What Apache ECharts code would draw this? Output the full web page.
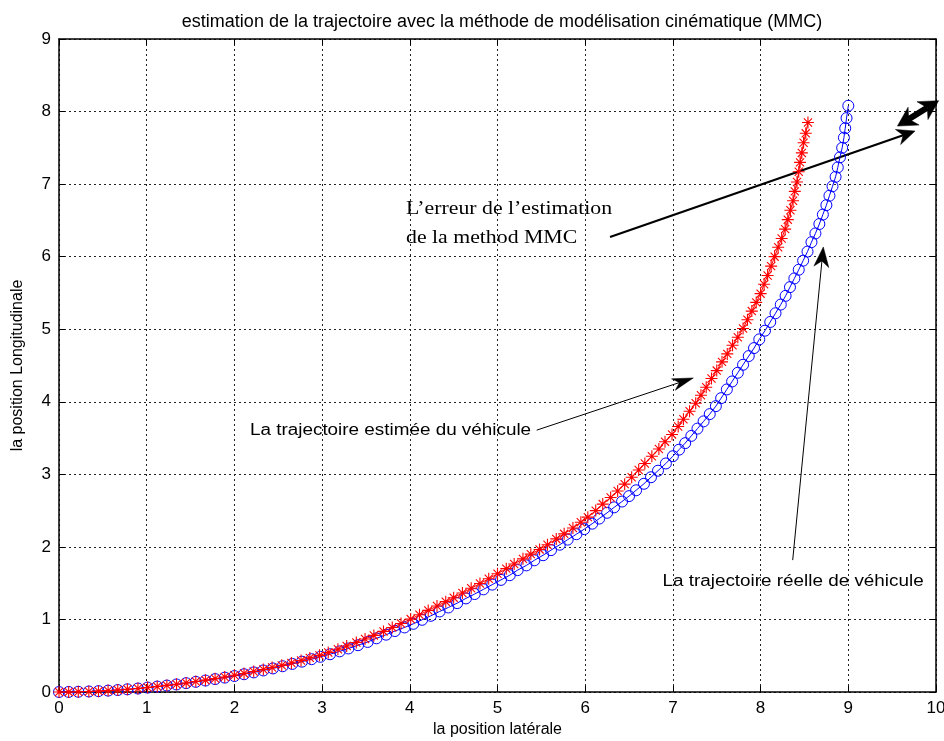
<!DOCTYPE html>
<html><head><meta charset="utf-8">
<script src="https://cdn.jsdelivr.net/npm/echarts@6.0.0/dist/echarts.min.js"></script>
<style>html,body{margin:0;padding:0;background:#fff}#c{width:944px;height:741px}</style>
</head><body><div id="c"></div>
<script>
// ---------- text ----------
const titleText = 'estimation de la trajectoire avec la méthode de modélisation cinématique (MMC)';
const xAxisName = 'la position latérale';
const yAxisName = 'la position Longitudinale';
const xRange = [0, 10];
const yRange = [0, 9];
const tickStep = 1;

// ---------- data: real trajectory (blue circles) ----------
const blueX = [0,0.11,0.22,0.34,0.45,0.56,0.67,0.78,0.9,1.01,
1.12,1.23,1.34,1.45,1.56,1.67,1.78,1.89,2.0,
2.11,2.22,2.33,2.44,2.55,2.66,2.77,2.88,2.98,
3.09,3.2,3.3,3.41,3.52,3.62,3.73,3.83,3.94,4.04,
4.14,4.24,4.34,4.44,4.54,4.64,4.74,4.84,4.94,5.04,
5.14,5.23,5.33,5.42,5.52,5.61,5.71,5.8,5.9,5.99,
6.08,6.16,6.25,6.33,6.42,6.5,6.58,6.67,6.75,6.83,6.92,7.0,
7.07,7.14,7.21,7.28,7.35,7.42,7.49,
7.55,7.615,7.675,7.74,7.8,7.865,7.925,7.985,8.05,8.11,8.17,8.23,8.285,8.335,8.385,8.435,8.485,8.535,8.58,8.625,8.67,8.71,8.75,8.785,8.82,8.855,8.88,8.905,8.93,8.95,8.965,8.98,9.0];
const blueY = [0,0.001,0.003,0.007,0.012,0.019,0.027,0.037,0.048,0.061,
0.075,0.089,0.104,0.122,0.14,0.158,0.178,0.198,0.22,
0.245,0.27,0.297,0.325,0.355,0.387,0.418,0.452,0.485,
0.52,0.56,0.6,0.645,0.69,0.74,0.79,0.84,0.89,0.94,
0.995,1.05,1.11,1.165,1.225,1.29,1.35,1.415,1.48,1.545,
1.61,1.68,1.745,1.815,1.885,1.955,2.03,2.1,2.175,2.245,
2.32,2.39,2.47,2.545,2.625,2.7,2.78,2.87,2.96,3.05,3.15,3.25,
3.34,3.43,3.53,3.63,3.73,3.83,3.94,
4.05,4.17,4.28,4.4,4.51,4.63,4.74,4.86,4.98,5.1,5.22,5.34,5.46,5.58,5.7,5.82,5.945,6.07,6.2,6.32,6.45,6.58,6.71,6.84,6.97,7.1,7.23,7.37,7.5,7.64,7.77,7.91,8.08];

// ---------- data: estimated trajectory (red asterisks) ----------
const redX = [0,0.11,0.22,0.34,0.45,0.56,0.67,0.78,0.9,1.01,
1.12,1.23,1.34,1.45,1.56,1.67,1.78,1.89,2.0,
2.11,2.22,2.33,2.43,2.54,2.65,2.76,2.86,2.97,
3.07,3.18,3.28,3.39,3.49,3.59,3.7,3.8,3.9,4.01,
4.11,4.21,4.31,4.41,4.5,4.6,4.7,4.8,4.9,5.0,
5.1,5.19,5.29,5.38,5.48,5.57,5.67,5.76,5.86,5.95,
6.03,6.12,6.2,6.29,6.37,6.45,
6.53,6.61,6.68,6.76,6.84,6.91,6.99,
7.06,7.12,7.19,7.26,
7.32,7.38,7.44,7.5,7.56,7.62,7.68,7.74,7.8,7.85,7.9,7.95,8.0,8.04,8.08,8.12,8.16,8.2,8.24,8.28,8.31,8.34,8.37,8.39,8.415,8.435,8.45,8.47,8.49,8.515,8.54];
const redY = [0,0.001,0.003,0.007,0.012,0.019,0.027,0.037,0.049,0.062,
0.076,0.091,0.107,0.125,0.144,0.163,0.184,0.206,0.23,
0.256,0.283,0.31,0.338,0.367,0.4,0.435,0.47,0.505,
0.545,0.59,0.635,0.683,0.73,0.78,0.835,0.89,0.945,1.005,
1.065,1.125,1.185,1.245,1.3,1.365,1.43,1.495,1.56,1.63,
1.7,1.765,1.835,1.9,1.965,2.03,2.11,2.18,2.26,2.34,
2.41,2.5,2.59,2.68,2.77,2.865,
2.96,3.06,3.15,3.25,3.35,3.45,3.55,
3.66,3.76,3.87,3.98,
4.09,4.2,4.32,4.43,4.55,4.66,4.78,4.89,5.01,5.13,5.25,5.37,5.49,5.62,5.74,5.87,6.0,6.13,6.25,6.38,6.51,6.64,6.77,6.9,7.03,7.17,7.3,7.43,7.57,7.7,7.85];

// ---------- annotations (data coordinates) ----------
const noteErrorLines = ['L\u2019erreur de l\u2019estimation', 'de la method MMC'];
const noteErrorAnchor = [3.957, 6.86];
const noteEstimated = 'La trajectoire estimée du véhicule';
const noteEstimatedAnchor = [2.178, 3.595];
const noteReal = 'La trajectoire réelle de véhicule';
const noteRealAnchor = [6.881, 1.515];
const arrowEstimated = [[5.447, 3.609], [7.233, 4.329]];
const arrowReal = [[8.366, 1.818], [8.715, 6.134]];
const arrowError = [[6.283, 6.271], [9.761, 7.731]];
const arrowDouble = [[9.560, 7.800], [10.030, 8.150]];

const FONT = '"Liberation Sans", Arial, sans-serif';
const SERIF = '"Liberation Serif", "Times New Roman", serif';
const STRETCH = 1.21;

const pair = (xs, ys) => xs.map((x, i) => [x, ys[i]]);
const asterisk = 'path://M5,0L5,10M0,5L10,5M1.6,1.6L8.4,8.4M1.6,8.4L8.4,1.6';

const chart = echarts.init(document.getElementById('c'), null, {renderer: 'canvas'});

const gridLine = {show: true, lineStyle: {color: '#222', width: 1, type: [2, 3]}};
const axisLineStyle = {show: true, onZero: false, lineStyle: {color: '#000', width: 1.5}};
const tick = {show: true, inside: true, length: 6, lineStyle: {color: '#000', width: 1}};
const labelStyle = {color: '#000', fontSize: 17, fontFamily: FONT, margin: 8};

chart.setOption({
  animation: false,
  backgroundColor: '#fff',
  title: {
    text: titleText, left: 497, top: 8, textAlign: 'center',
    textStyle: {fontSize: 18, fontWeight: 'normal', fontFamily: FONT, color: '#000'}
  },
  grid: {left: 59, right: 8, top: 39, bottom: 49, containLabel: false, outerBoundsMode: 'none'},
  xAxis: [
    {type: 'value', min: xRange[0], max: xRange[1], interval: tickStep, position: 'bottom',
     axisLine: axisLineStyle, axisTick: tick, splitLine: gridLine, axisLabel: labelStyle,
     name: xAxisName, nameLocation: 'middle', nameGap: 30,
     nameTextStyle: {fontSize: 16, fontFamily: FONT, color: '#000'}},
    {type: 'value', min: xRange[0], max: xRange[1], interval: tickStep, position: 'top',
     axisLine: axisLineStyle, axisTick: tick, splitLine: {show: false}, axisLabel: {show: false}}
  ],
  yAxis: [
    {type: 'value', min: yRange[0], max: yRange[1], interval: tickStep, position: 'left',
     axisLine: axisLineStyle, axisTick: tick, splitLine: gridLine, axisLabel: labelStyle,
     name: yAxisName, nameLocation: 'middle', nameGap: 33, nameRotate: 90,
     nameTextStyle: {fontSize: 16, fontFamily: FONT, color: '#000'}},
    {type: 'value', min: yRange[0], max: yRange[1], interval: tickStep, position: 'right',
     axisLine: axisLineStyle, axisTick: tick, splitLine: {show: false}, axisLabel: {show: false}}
  ],
  series: [
    {name: 'réelle', type: 'line', xAxisIndex: 0, yAxisIndex: 0, data: pair(blueX, blueY),
     symbol: 'circle', symbolSize: 11, showAllSymbol: true, clip: false,
     lineStyle: {color: '#0000ff', width: 1},
     itemStyle: {color: 'rgba(0,0,0,0)', borderColor: '#0000ff', borderWidth: 1}},
    {name: 'estimée', type: 'line', xAxisIndex: 0, yAxisIndex: 0, data: pair(redX, redY),
     symbol: asterisk, symbolSize: 12, showAllSymbol: true, clip: false,
     lineStyle: {color: '#ff0000', width: 1},
     itemStyle: {color: '#ff0000', borderColor: '#ff0000', borderWidth: 1.1}}
  ]
});

const toPx = p => chart.convertToPixel({xAxisIndex: 0, yAxisIndex: 0}, p);

function arrowParts(fromD, toD, opt) {
  const a = toPx(fromD), b = toPx(toD);
  const dx = b[0] - a[0], dy = b[1] - a[1];
  const len = Math.hypot(dx, dy);
  const ux = dx / len, uy = dy / len, nx = -uy, ny = ux;
  const L = opt.head, W = opt.half, notch = opt.notch;
  const bx = b[0] - ux * L, by = b[1] - uy * L;
  const mx = b[0] - ux * L * notch, my = b[1] - uy * L * notch;
  return {
    a, b, mid: [mx, my],
    head: {type: 'polygon', silent: true,
      shape: {points: [[b[0], b[1]], [bx + nx * W, by + ny * W], [mx, my], [bx - nx * W, by - ny * W]]},
      style: {fill: '#000', stroke: '#000', lineWidth: 0.5}}
  };
}

function arrow(fromD, toD, opt) {
  const p = arrowParts(fromD, toD, opt);
  return [
    {type: 'line', silent: true, shape: {x1: p.a[0], y1: p.a[1], x2: p.mid[0], y2: p.mid[1]},
     style: {stroke: '#000', lineWidth: opt.width}},
    p.head
  ];
}

function doubleArrow(aD, bD, opt) {
  const p1 = arrowParts(aD, bD, opt);
  const p2 = arrowParts(bD, aD, opt);
  return [
    {type: 'line', silent: true, shape: {x1: p2.mid[0], y1: p2.mid[1], x2: p1.mid[0], y2: p1.mid[1]},
     style: {stroke: '#000', lineWidth: opt.width}},
    p1.head, p2.head
  ];
}

function label(text, anchorD, font, size, vAlign, lineHeight) {
  const p = toPx(anchorD);
  return {type: 'text', silent: true, x: p[0], y: p[1], scaleX: STRETCH, scaleY: 1,
    style: {text, fill: '#000', fontFamily: font, fontSize: size, lineHeight: lineHeight || size * 1.2,
            align: 'left', verticalAlign: vAlign, textAlign: 'left', textVerticalAlign: vAlign}};
}

const g = [];
g.push(...arrow(arrowEstimated[0], arrowEstimated[1], {head: 21, half: 6, notch: 0.7, width: 1}));
g.push(...arrow(arrowReal[0], arrowReal[1], {head: 20, half: 7.5, notch: 0.7, width: 1}));
g.push(...arrow(arrowError[0], arrowError[1], {head: 18, half: 8, notch: 0.7, width: 2.2}));
g.push(...doubleArrow(arrowDouble[0], arrowDouble[1], {head: 19, half: 10.5, notch: 0.7, width: 6}));
g.push(label(noteErrorLines.join('\n'), noteErrorAnchor, SERIF, 18, 'top', 29));
g.push(label(noteEstimated, noteEstimatedAnchor, FONT, 15.6, 'middle'));
g.push(label(noteReal, noteRealAnchor, FONT, 15.6, 'middle'));

chart.setOption({graphic: g});
</script>
</body></html>
